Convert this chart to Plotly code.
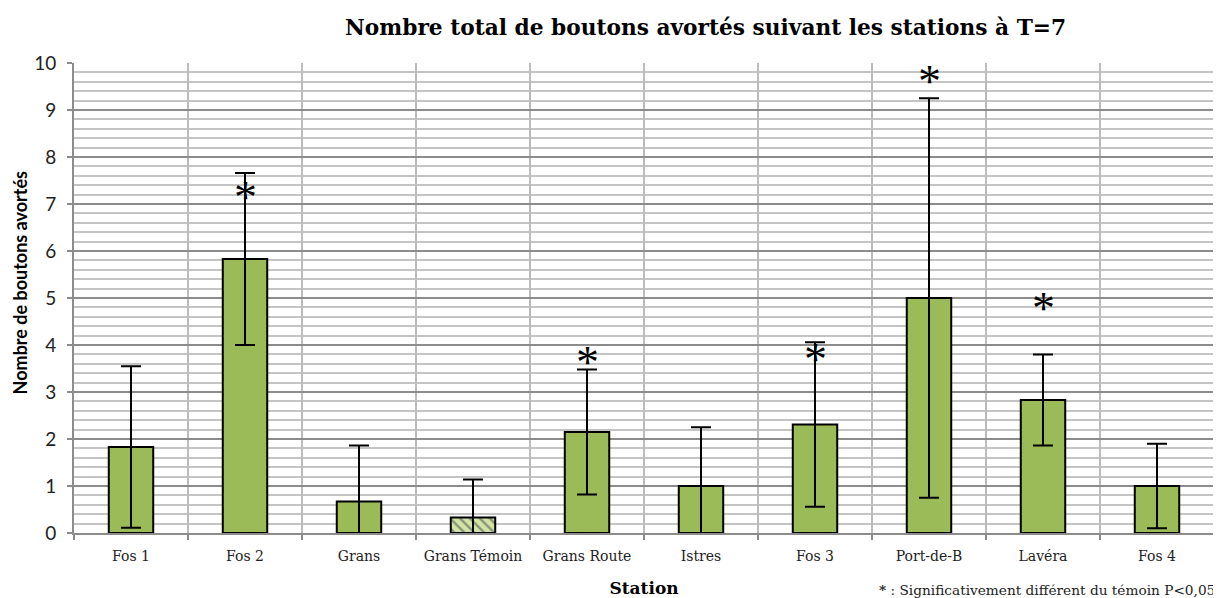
import plotly.graph_objects as go

stations = ["Fos 1", "Fos 2", "Grans", "Grans Témoin", "Grans Route",
            "Istres", "Fos 3", "Port-de-B", "Lavéra", "Fos 4"]
means = [1.83, 5.83, 0.67, 0.33, 2.15, 1.00, 2.31, 5.00, 2.83, 1.00]
errors = [1.72, 1.83, 1.19, 0.81, 1.33, 1.25, 1.75, 4.25, 0.97, 0.90]
star_stations = ["Fos 2", "Grans Route", "Fos 3", "Port-de-B", "Lavéra"]
star_y = [7.26, 3.75, 3.82, 9.74, 4.90]
y_ticks = list(range(0, 11))

GREEN = "#9bbb59"
LIGHT_GREEN = "#d3e4a8"
bar_colors = [LIGHT_GREEN if s == "Grans Témoin" else GREEN for s in stations]
bar_patterns = ["\\" if s == "Grans Témoin" else "" for s in stations]

fig = go.Figure()
fig.add_trace(go.Bar(
    x=stations, y=means, width=0.39,
    marker=dict(color=bar_colors, line=dict(color="black", width=2),
                pattern=dict(shape=bar_patterns, fgcolor="#3d4d1f", size=7, solidity=0.35)),
    error_y=dict(type="data", array=errors, visible=True, color="black", thickness=2, width=10),
    showlegend=False,
))

for s, yv in zip(star_stations, star_y):
    fig.add_annotation(
        x=s, y=yv, xref="x", yref="y", text="*", showarrow=False,
        xanchor="center", yanchor="middle", yshift=-6,
        font=dict(family="Liberation Serif", size=46, color="black"),
    )

fig.update_layout(
    width=1213, height=590,
    margin=dict(l=66, r=7, t=55, b=65, autoexpand=False),
    paper_bgcolor="white", plot_bgcolor="white",
    bargap=0.61,
)
fig.update_xaxes(
    type="category", tickson="boundaries", showgrid=True, gridcolor="#bcbcbc", gridwidth=2,
    ticks="outside", ticklen=5, tickcolor="#8c8c8c", tickwidth=2, tickangle=0,
    ticklabelstandoff=9,
    showline=True, linecolor="#8c8c8c", linewidth=2, automargin=False,
    tickfont=dict(family="DejaVu Serif", size=14, color="#222"),
    title=dict(text="<b>Station</b>", font=dict(family="DejaVu Serif", size=17, color="black"), standoff=29),
)
fig.update_yaxes(
    range=[0, 10], tickvals=y_ticks, showgrid=True, gridcolor="#8c8c8c", gridwidth=2,
    zeroline=False, showline=True, linecolor="#8c8c8c", linewidth=2, automargin=False,
    ticks="outside", ticklen=5, tickcolor="#8c8c8c", tickwidth=2, ticklabelstandoff=7,
    tickfont=dict(family="Lato", size=19, color="#222"),
    minor=dict(dtick=0.2, showgrid=True, gridcolor="#c4c4c4", gridwidth=2, ticks=""),
)
fig.add_annotation(
    text="<b>Nombre de boutons avortés</b>", textangle=-90,
    xref="paper", yref="paper", x=-0.047, y=0.532, xanchor="center", yanchor="middle",
    showarrow=False, font=dict(family="Lato", size=18, color="black"),
)
fig.add_annotation(
    text="<b>Nombre total de boutons avortés suivant les stations à T=7</b>",
    xref="paper", yref="paper", x=0.554, y=1.075, xanchor="center", yanchor="middle",
    showarrow=False, font=dict(family="DejaVu Serif", size=21.7, color="black"),
)
fig.add_annotation(
    text="<b>*</b> : Significativement différent du témoin P<0,05",
    xref="paper", yref="paper", x=1.003, y=-0.121, xanchor="right", yanchor="middle",
    showarrow=False, font=dict(family="DejaVu Serif", size=13.7, color="#222"),
)
fig.write_html("out.html")
